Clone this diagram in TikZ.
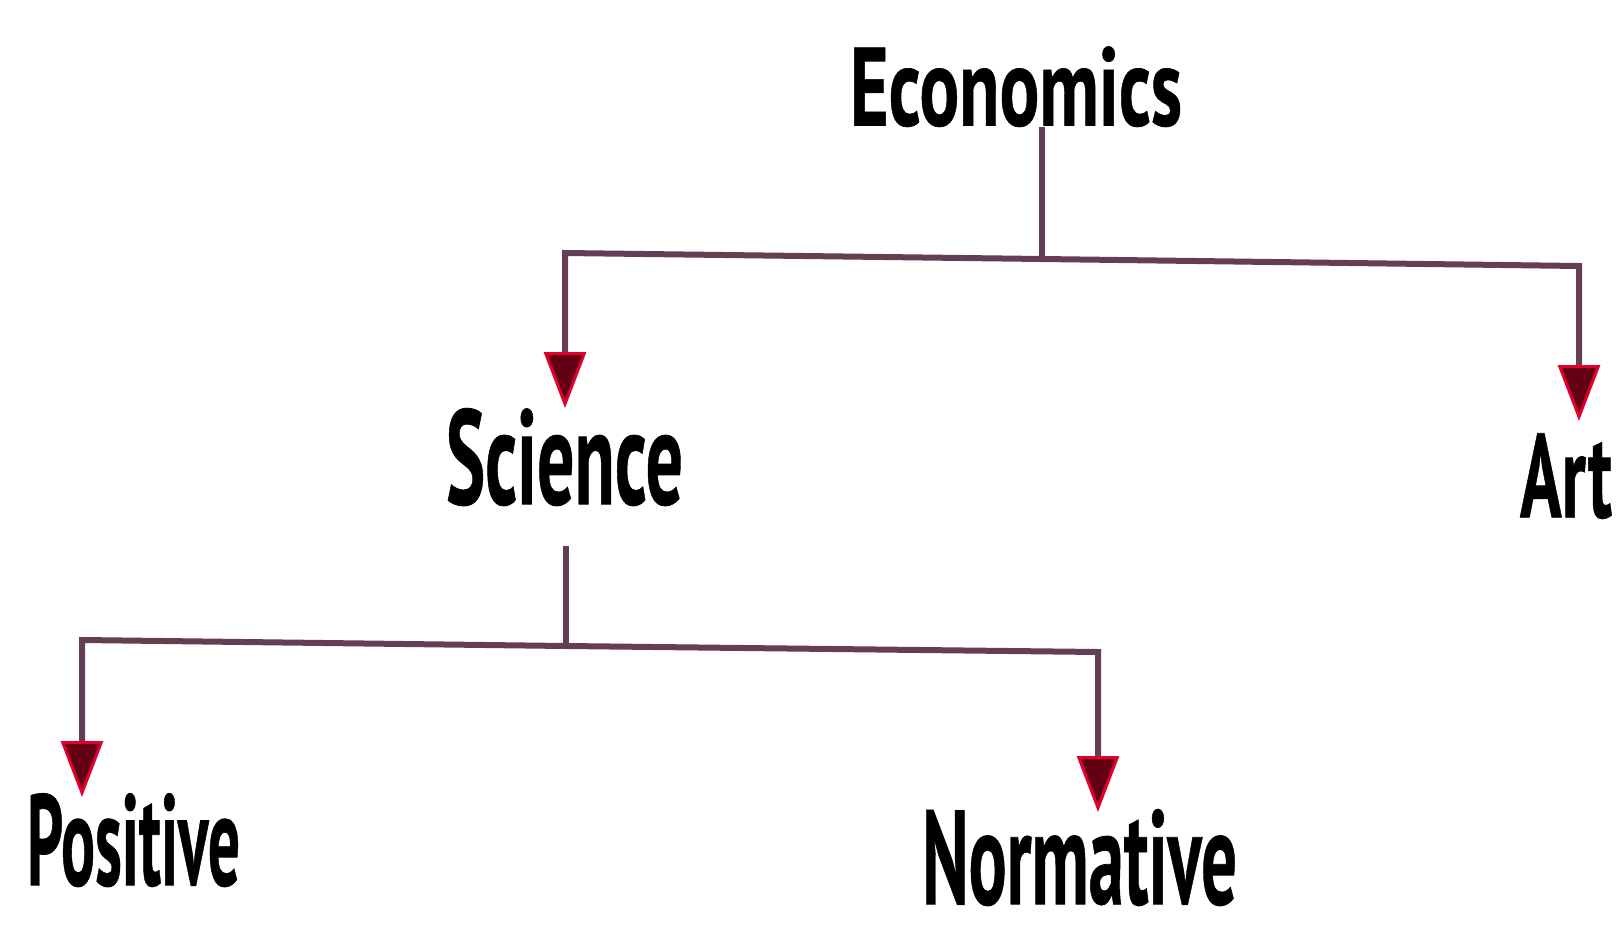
\documentclass[tikz,border=0pt]{standalone}
\usepackage{fontspec}
\setmainfont{PT Sans}[BoldFeatures={FakeBold=0.6}]
\usetikzlibrary{arrows.meta}
\definecolor{linec}{RGB}{100,62,82}
\definecolor{headfill}{RGB}{100,0,20}
\definecolor{headedge}{RGB}{225,0,45}
\tikzset{
  lbl/.style={inner sep=0pt, outer sep=0pt, anchor=south west, text=black},
  conn/.style={draw=linec, line width=0.6mm},
  arr/.style={conn, -{Triangle[length=5.6mm,width=4.2mm,fill=headfill,color=headedge,line width=0.3mm]}},
}
\begin{document}
\begin{tikzpicture}[x=0.1mm,y=-0.1mm]
\useasboundingbox (0,0) rectangle (1618,940);
% labels (placed by bottom-left corner)
\node[lbl] (eco) at (850,127) {\resizebox{33.2mm}{7.9mm}{\bfseries Economics}};
\node[lbl] (sci) at (446,506) {\resizebox{23.7mm}{9.6mm}{\bfseries Science}};
\node[lbl] (art) at (1520,519) {\resizebox{9.2mm}{8.4mm}{\bfseries Art}};
\node[lbl] (pos) at (27,887) {\resizebox{21.3mm}{9.2mm}{\bfseries Positive}};
\node[lbl] (nor) at (922,906) {\resizebox{31.5mm}{9.5mm}{\bfseries Normative}};
% junction and corner points
\coordinate (e0) at (1042,132);
\coordinate (j1) at (1042,259);
\coordinate (c1) at (565,253);
\coordinate (c2) at (1579,266);
\coordinate (s0) at (566,545);
\coordinate (j2) at (566,646);
\coordinate (c3) at (82,640);
\coordinate (c4) at (1098,652);
\coordinate (tsci) at (565,405);
\coordinate (tart) at (1579,421);
\coordinate (tpos) at (82,797);
\coordinate (tnor) at (1098,812);
% connectors
\draw[conn] (e0 |- eco.south) -- (j1);
\draw[arr] (j1) -- (c1) -- (tsci |- sci.north);
\draw[arr] (j1) -- (c2) -- (tart);
\draw[conn] (s0 |- sci.south) ++(0,40) -- (j2);
\draw[arr] (j2) -- (c3) -- (tpos);
\draw[arr] (j2) -- (c4) -- (tnor);
\end{tikzpicture}
\end{document}
